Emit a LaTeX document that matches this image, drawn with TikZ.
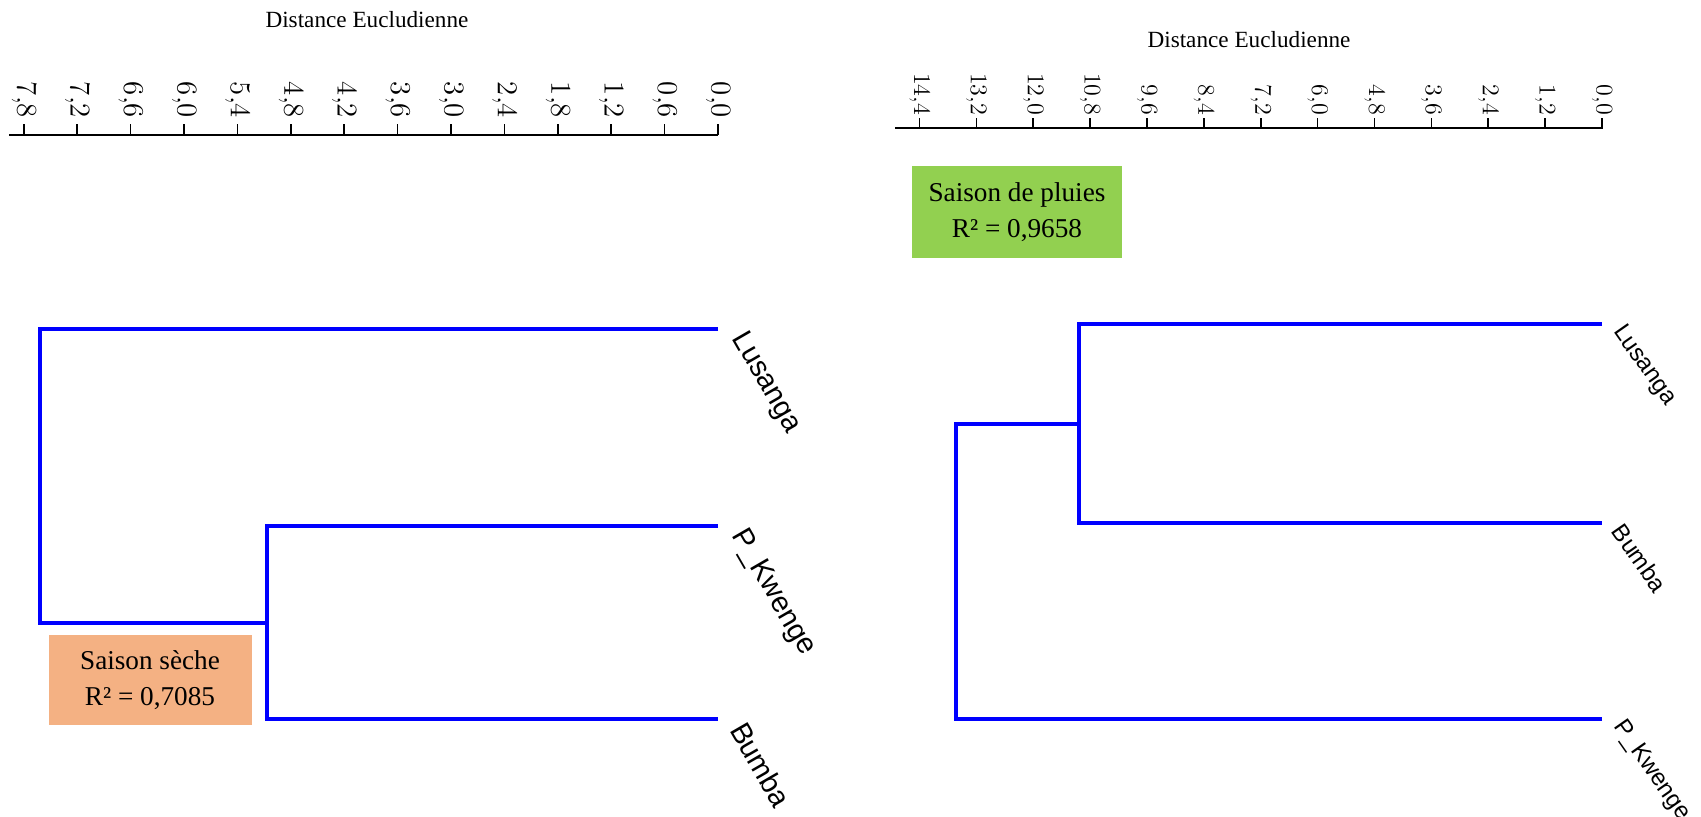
\documentclass[tikz,border=0pt]{standalone}
\usepackage{fontspec}
\setmainfont{Liberation Serif}
\setsansfont{Liberation Sans}
\usetikzlibrary{positioning}
\definecolor{seche}{HTML}{F4B183}
\definecolor{pluie}{HTML}{92D050}
\begin{document}
\begin{tikzpicture}[x=0.5pt,y=-0.5pt,inner sep=0pt,outer sep=0pt,
branch/.style={draw=blue,line width=1.65pt},
axisline/.style={draw=black,line width=0.8pt},
ticklbl/.style={rotate=-90,anchor=east},
axtitle/.style={font=\fontsize{11.6}{12}\selectfont},
leaflbl/.style={font=\sffamily\fontsize{14.5}{15}\selectfont},
legbox/.style={rectangle,align=center,font=\fontsize{13.6}{18}\selectfont}]
\useasboundingbox (0,0) rectangle (1701,817);

% saison seche
\node[axtitle] (titleL) at (367,20) {Distance Eucludienne};
\draw[axisline] (9,135) -- (718,135);
\foreach \i in {0,...,13}{
  \pgfmathsetmacro\dv{0.6*\i}
  \draw[axisline] (718-89*\dv,135) -- (718-89*\dv,124);
  \node[ticklbl,font=\fontsize{14}{14}\selectfont] (tl\i) at (718-89*\dv,118)
    {\pgfmathprintnumber[fixed,fixed zerofill,precision=1,use comma]{\dv}};
}
\coordinate (lusL) at (718,329);
\coordinate (pkwL) at (718,526);
\coordinate (bumL) at (718,719);
\coordinate (m1L) at (267,623);
\coordinate (m2L) at (40,476);
\draw[branch] (pkwL) -| (m1L) |- (bumL);
\draw[branch] (lusL) -| (m2L) |- (m1L);
\node[leaflbl,right=10pt of lusL,yshift=-3pt,rotate=-60] (labLusL) {Lusanga};
\node[leaflbl,right=10pt of pkwL,yshift=-3pt,rotate=-60] (labPkwL) {P\_Kwenge};
\node[leaflbl,right=10pt of bumL,yshift=-3pt,rotate=-60] (labBumL) {Bumba};
\node[legbox,fill=seche,minimum width=101.5pt,minimum height=45pt] (boxL) at (150,680)
  {Saison sèche\\R² = 0,7085};

% saison de pluies
\node[axtitle] (titleR) at (1249,40) {Distance Eucludienne};
\draw[axisline] (895,128) -- (1603,128);
\foreach \i in {0,...,12}{
  \pgfmathsetmacro\dv{1.2*\i}
  \draw[axisline] (1602-47.4*\dv,128) -- (1602-47.4*\dv,118);
  \node[ticklbl,font=\fontsize{12}{12}\selectfont] (tr\i) at (1602-47.4*\dv,115)
    {\pgfmathprintnumber[fixed,fixed zerofill,precision=1,use comma]{\dv}};
}
\coordinate (lusR) at (1602,324);
\coordinate (bumR) at (1602,523);
\coordinate (pkwR) at (1602,719);
\coordinate (m1R) at (1079,424);
\coordinate (m2R) at (956,572);
\draw[branch] (lusR) -| (m1R) |- (bumR);
\draw[branch] (pkwR) -| (m2R) |- (m1R);
\node[leaflbl,font=\sffamily\fontsize{12}{13}\selectfont,right=8pt of lusR,yshift=-2pt,rotate=-55] (labLusR) {Lusanga};
\node[leaflbl,font=\sffamily\fontsize{12}{13}\selectfont,right=8pt of bumR,yshift=-2pt,rotate=-55] (labBumR) {Bumba};
\node[leaflbl,font=\sffamily\fontsize{12}{13}\selectfont,right=8pt of pkwR,yshift=-2pt,rotate=-55] (labPkwR) {P\_Kwenge};
\node[legbox,fill=pluie,minimum width=105pt,minimum height=46pt] (boxR) at (1017,212)
  {Saison de pluies\\R² = 0,9658};
\end{tikzpicture}
\end{document}
